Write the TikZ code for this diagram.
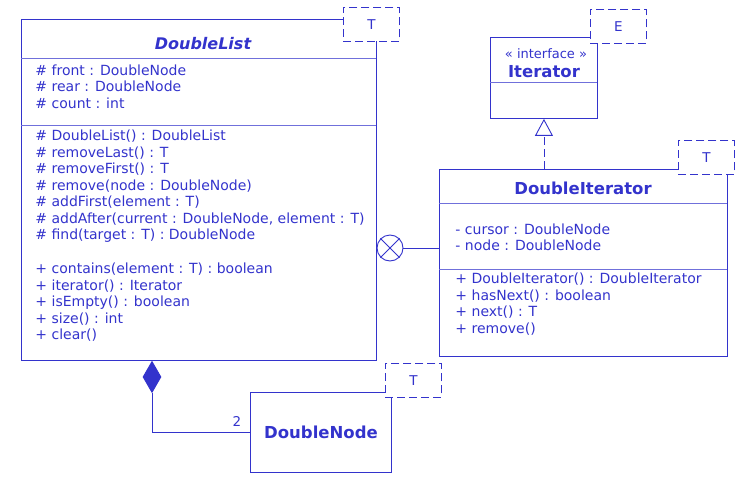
\documentclass[tikz,border=0pt]{standalone}
\usepackage{fontspec}
\setmainfont{DejaVu Sans}
\usetikzlibrary{shapes.geometric,arrows.meta}
\definecolor{uml}{RGB}{51,51,204}
\begin{document}
\begin{tikzpicture}[x=1pt,y=-1pt,line width=0.9pt,
  box/.style={draw=uml,anchor=north west,inner sep=0pt},
  sep/.style={draw=uml!70},
  txt/.style={anchor=west,inner sep=0pt,text=uml,font=\fontsize{14}{16}\selectfont},
  ttl/.style={inner sep=0pt,text=uml,font=\fontsize{16.5}{18}\selectfont\bfseries},
  tmpl/.style={draw=uml,dash pattern=on 8pt off 4pt,fill=white,anchor=north west,inner sep=0pt,
    minimum width=56pt,minimum height=34pt,text=uml,font=\fontsize{13.5}{15}\selectfont}]
\useasboundingbox (0,0) rectangle (743,481);
% DoubleList
\node[box,minimum width=355pt,minimum height=341pt] (dl) at (21,19) {};
\draw[sep] (21,58) -- (376,58);
\draw[sep] (21,125) -- (376,125);
\node[ttl,font=\fontsize{16}{18}\selectfont\bfseries\itshape] (dlt) at (203,44) {DoubleList};
\foreach \t [count=\i] in {\# front : DoubleNode,\# rear : DoubleNode,\# count : int}
  \node[txt] (dla\i) at (35,53.5+16.6*\i) {\t};
\foreach \t [count=\i] in {\# DoubleList() : DoubleList,\# removeLast() : T,\# removeFirst() : T,
  \# remove(node : DoubleNode),\# addFirst(element : T),{\# addAfter(current : DoubleNode, element : T)},
  \# find(target : T) : DoubleNode}
  \node[txt] (dlm\i) at (35,119.5+16.6*\i) {\t};
\foreach \t [count=\i] in {+ contains(element : T) : boolean,+ iterator() : Iterator,+ isEmpty() : boolean,
  + size() : int,+ clear()}
  \node[txt] (dlp\i) at (35,252.5+16.6*\i) {\t};
\node[tmpl] (dlT) at (343,7) {T};
% Iterator
\node[box,minimum width=107pt,minimum height=81pt] (it) at (490,37) {};
\draw[sep] (490,82) -- (597,82);
\node[inner sep=0pt,text=uml,font=\fontsize{13}{14}\selectfont] (its) at (546,54) {« interface »};
\node[ttl] (itt) at (544,72) {Iterator};
\node[tmpl] (itE) at (590,9) {E};
% DoubleIterator
\node[box,minimum width=288pt,minimum height=187pt] (di) at (439,169) {};
\draw[sep] (439,203) -- (727,203);
\draw[sep] (439,269) -- (727,269);
\node[ttl] (dit) at (583,188) {DoubleIterator};
\foreach \t [count=\i] in {- cursor : DoubleNode,- node : DoubleNode}
  \node[txt] (dia\i) at (455,212.5+16.6*\i) {\t};
\foreach \t [count=\i] in {+ DoubleIterator() : DoubleIterator,+ hasNext() : boolean,+ next() : T,+ remove()}
  \node[txt] (dim\i) at (455,262.5+16.6*\i) {\t};
\node[tmpl] (diT) at (678,140) {T};
% DoubleNode
\node[box,minimum width=141pt,minimum height=80pt] (dn) at (250,392) {};
\node[ttl] (dnt) at (321,432) {DoubleNode};
\node[tmpl] (dnT) at (385,363) {T};
% realization
\draw[draw=uml,dash pattern=on 8pt off 4pt,-{Triangle[open,length=17pt,width=18pt,line width=0.9pt]}]
  (it.south |- di.north) -- (it.south);
% nesting
\node[draw=uml,circle,minimum size=26pt,inner sep=0pt,fill=white] (nest) at (390,248) {};
\draw[uml] (nest.north west) -- (nest.south east) (nest.north east) -- (nest.south west);
\draw[uml] (nest.east) -- (nest.east -| di.west);
% composition
\node[diamond,draw=uml,fill=uml,minimum width=18pt,minimum height=31pt,inner sep=0pt,anchor=north] (dia) at (152,361) {};
\draw[uml] (dn.west) -| (dia.south);
\node[inner sep=0pt,text=uml,font=\fontsize{13.5}{15}\selectfont] (mult) at (237,421) {2};
\end{tikzpicture}
\end{document}
